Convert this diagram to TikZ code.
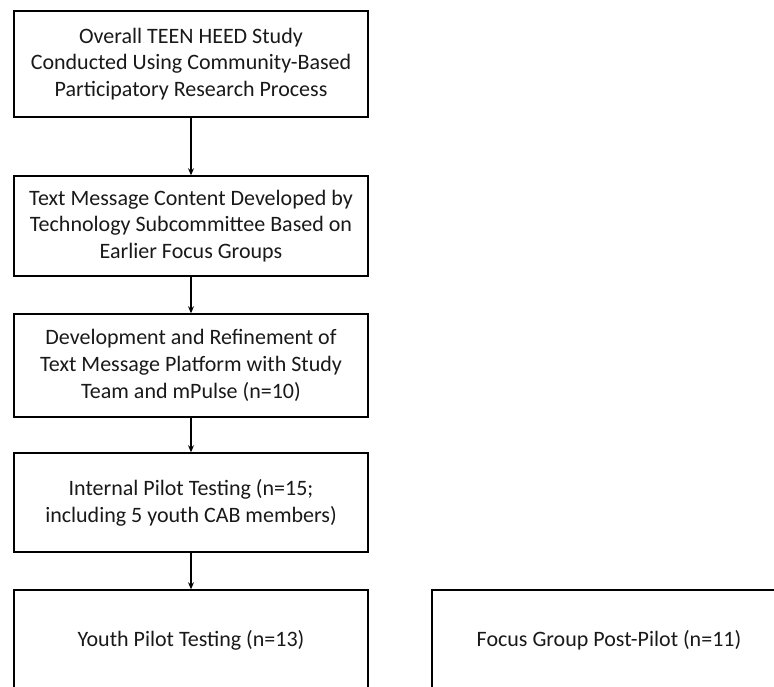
\documentclass[tikz,border=0pt]{standalone}
\usepackage{fontspec}
\setmainfont{Carlito}
\usetikzlibrary{arrows.meta}
\begin{document}
\begin{tikzpicture}[x=1pt,y=-1pt,
  box/.style={draw=black,line width=1.5pt,minimum width=354pt,inner sep=0pt,align=center,
    font=\fontsize{22}{26.7}\selectfont,text=black!90},
  conn/.style={line width=1.4pt,-{Stealth[length=7pt,width=6pt]}}]
\useasboundingbox (0,0) rectangle (774,687);
\node[box,minimum height=106pt] (b1) at (191,64) {Overall TEEN HEED Study\\Conducted Using Community-Based\\Participatory Research Process};
\node[box,minimum height=100pt] (b2) at (191,226) {Text Message Content Developed by\\Technology Subcommittee Based on\\Earlier Focus Groups};
\node[box,minimum height=103pt] (b3) at (191,365.5) {Development and Refinement of\\Text Message Platform with Study\\Team and mPulse (n=10)};
\node[box,minimum height=99pt] (b4) at (191,502.5) {Internal Pilot Testing (n=15;\\including 5 youth CAB members)};
\node[box,minimum height=100pt] (b5) at (191,640) {Youth Pilot Testing (n=13)};
\node[box,minimum height=100pt] (b6) at (609,640) {Focus Group Post-Pilot (n=11)};
\draw[conn] (b1) -- (b2);
\draw[conn] (b2) -- (b3);
\draw[conn] (b3) -- (b4);
\draw[conn] (b4) -- (b5);
\end{tikzpicture}
\end{document}
